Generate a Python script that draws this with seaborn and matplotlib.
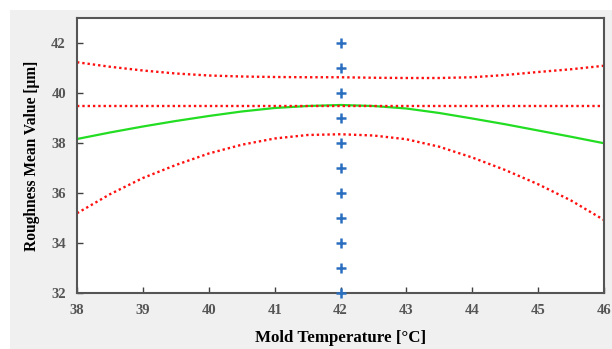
import numpy as np
import pandas as pd
import matplotlib
matplotlib.use("Agg")
import matplotlib.pyplot as plt
import seaborn as sns
from matplotlib.patches import Rectangle

# Data
temps = [38, 38.5, 39, 39.5, 40, 40.5, 41, 41.5, 42, 42.5, 43, 43.5, 44, 44.5, 45, 45.5, 46]
fit_mean = [38.16, 38.42, 38.66, 38.88, 39.08, 39.26, 39.40, 39.48, 39.52, 39.48, 39.38,
            39.20, 38.98, 38.75, 38.50, 38.25, 37.99]
upper_ci = [41.23, 41.05, 40.90, 40.78, 40.70, 40.66, 40.64, 40.63, 40.63, 40.61, 40.60,
            40.60, 40.63, 40.72, 40.84, 40.95, 41.09]
lower_ci = [35.19, 35.95, 36.60, 37.12, 37.58, 37.93, 38.18, 38.32, 38.35, 38.30, 38.15,
            37.85, 37.42, 36.92, 36.35, 35.70, 34.92]
hold_level = [39.5] * len(temps)
center_x = [42] * 11
center_y = [32, 33, 34, 35, 36, 37, 38, 39, 40, 41, 42]

x_ticks = [38, 39, 40, 41, 42, 43, 44, 45, 46]
y_ticks = [32, 34, 36, 38, 40, 42]

sns.set_theme(style="white")
plt.rcParams['font.family'] = ['Liberation Serif', 'DejaVu Serif']

fig = plt.figure(figsize=(6.12, 3.49), dpi=100)
fig.patch.set_facecolor("white")
fig.patches.append(Rectangle((10/612, 0), 1 - 10/612, 1 - 10/349,
                             transform=fig.transFigure, facecolor="#f0f0f0",
                             edgecolor="none", zorder=-10))
ax = fig.add_axes([77/612, 1 - 293/349, (604 - 77)/612, (293 - 18)/349])
ax.set_facecolor("white")

df_fit = pd.DataFrame({"T": temps, "R": fit_mean})
df_up = pd.DataFrame({"T": temps, "R": upper_ci})
df_lo = pd.DataFrame({"T": temps, "R": lower_ci})
df_h = pd.DataFrame({"T": temps, "R": hold_level})
df_c = pd.DataFrame({"T": center_x, "R": center_y})

red = "#ff1010"
dot = (0, (1, 1.25))
sns.lineplot(data=df_fit, x="T", y="R", ax=ax, color="#22dd22", lw=1.6)
sns.lineplot(data=df_up, x="T", y="R", ax=ax, color=red, lw=1.7, linestyle=dot)
sns.lineplot(data=df_lo, x="T", y="R", ax=ax, color=red, lw=1.7, linestyle=dot)
sns.lineplot(data=df_h, x="T", y="R", ax=ax, color=red, lw=1.7, linestyle=dot)
sns.scatterplot(data=df_c, x="T", y="R", ax=ax, marker="+", s=45,
                color="#2a6fbf", linewidth=1.8, zorder=5, clip_on=False)

ax.set_xlim(38, 46)
ax.set_ylim(32, 43)
ax.set_xticks(x_ticks)
ax.set_yticks(y_ticks)
ax.tick_params(direction="in", length=4, width=1, colors="#404040",
               labelcolor="#555555", labelsize=10.5, top=False, right=False,
               bottom=True, left=True, pad=8)
for lab in ax.get_xticklabels() + ax.get_yticklabels():
    lab.set_fontweight("bold")
for s in ax.spines.values():
    s.set_color("#555555")
    s.set_linewidth(1.5)

ax.set_xlabel("Mold Temperature [°C]", fontsize=12.2, fontweight="bold", color="black", labelpad=9)
ax.set_ylabel("Roughness Mean Value [μm]", fontsize=11.2, fontweight="bold", color="black", labelpad=8)

fig.savefig("out.png", dpi=100)
